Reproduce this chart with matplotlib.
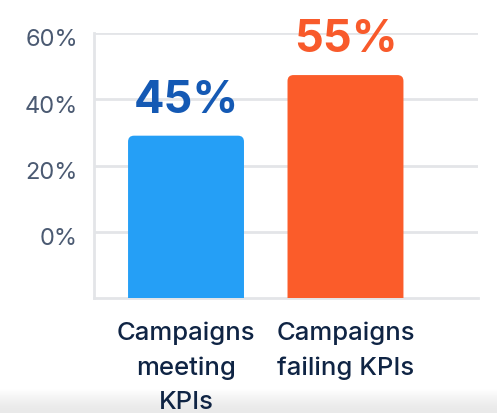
import matplotlib
matplotlib.use("Agg")
import matplotlib.pyplot as plt
from matplotlib.patches import FancyBboxPatch
from matplotlib.transforms import ScaledTranslation
import numpy as np

categories = ["Campaigns\nmeeting\nKPIs", "Campaigns\nfailing KPIs"]
value_labels = [45, 55]          # percentages printed above the bars
bar_tops = [29.0, 47.3]          # where the bar tops sit on the drawn axis
axis_floor = -20                 # bottom of the drawn axis
yticks = [0, 20, 40, 60]
ytick_labels = ["0%", "20%", "40%", "60%"]

bar_colors = ["#259ff6", "#fb5c2a"]
label_colors = ["#1459b4", "#f85a2b"]

plt.rcParams['font.family'] = ['Inter', 'DejaVu Sans']

fig = plt.figure(figsize=(4.97, 4.14), dpi=100)

# subtle grey fade at the bottom edge
bg = fig.add_axes([0, 0, 1, 24/414], zorder=-5)
grad = np.linspace(0, 1, 50)[:, None] ** 1.5
bg.imshow(grad, aspect='auto', cmap=matplotlib.colors.LinearSegmentedColormap.from_list(
    "fade", ["#e9e9e9", "#ffffff"]), origin='lower', extent=[0, 1, 0, 1])
bg.axis('off')

ax = fig.add_axes([94/497, 1-299/414, (478-94)/497, (299-34)/414])
ax.patch.set_alpha(0)

x = np.arange(len(categories))
width = 0.727
heights = np.array(bar_tops) - axis_floor
bars = ax.bar(x, heights, width=width, bottom=axis_floor, color=bar_colors, zorder=3)

# replace with rounded-top bars
x_per_px = 1/159.5
y_per_px = 20/66
r_px = 6
for b, c in zip(bars, bar_colors):
    bx, by = b.get_x(), b.get_y()
    bw, bh = b.get_width(), b.get_height()
    b.set_visible(False)
    ext = 3
    p = FancyBboxPatch((bx, by - ext), bw, bh + ext,
                       boxstyle=f"round,pad=0,rounding_size={r_px*x_per_px}",
                       mutation_aspect=y_per_px/x_per_px,
                       facecolor=c, edgecolor='none', zorder=3, clip_on=True)
    ax.add_patch(p)

for xi, top, v, lc in zip(x, bar_tops, value_labels, label_colors):
    ax.text(xi, top + 36*y_per_px, f"{v}%", ha='center', va='center',
            fontsize=32.5, fontweight='bold', color=lc, zorder=4, clip_on=False)

ax.set_xlim(-0.577, 1.831)
ax.set_ylim(axis_floor, 60)
ax.set_yticks(yticks)
ax.set_yticklabels(ytick_labels, fontsize=17, color="#4b5a72")
ax.set_xticks(x)
ax.set_xticklabels([])
for xi, cat in zip(x, categories):
    ax.annotate(cat, xy=(xi, 0), xycoords=ax.get_xaxis_transform(),
                xytext=(0, -16), textcoords='offset points',
                ha='center', va='top', multialignment='center',
                fontsize=18.5, color="#0f2444", linespacing=1.62,
                fontweight='medium', annotation_clip=False)
ax.tick_params(axis='both', length=0)
ax.tick_params(axis='y', pad=11.5)
for lbl in ax.get_yticklabels():
    lbl.set_transform(lbl.get_transform() + ScaledTranslation(0, -4/100, fig.dpi_scale_trans))

ax.grid(axis='y', color="#e3e5e8", linewidth=2, zorder=0)
for s in ['top', 'right']:
    ax.spines[s].set_visible(False)
for s in ['left', 'bottom']:
    ax.spines[s].set_color("#e3e5e8")
    ax.spines[s].set_linewidth(2)

fig.savefig("out.png", dpi=100, facecolor='white')
